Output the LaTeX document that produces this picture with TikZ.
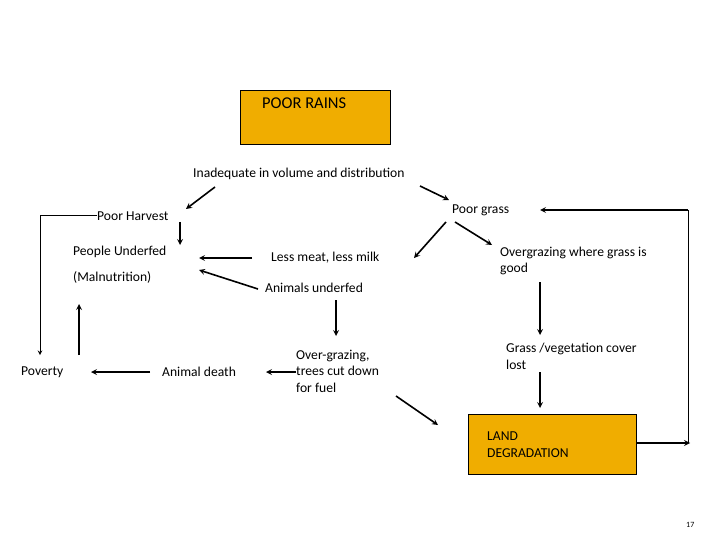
\documentclass[tikz,border=0pt]{standalone}
\usepackage{fontspec}
\setmainfont{Carlito}
\usetikzlibrary{arrows, positioning}
\definecolor{boxorange}{RGB}{240,173,0}
\tikzstyle{box}=[draw, fill=boxorange, anchor=north west]
\tikzstyle{lbl}=[anchor=west, inner sep=0pt, align=left, font=\fontsize{13.6}{16.5}\selectfont]
\tikzstyle{arr} = [line width=1.6pt,->,>=stealth]
\tikzstyle{ln} = [line width=1pt]

\begin{document}
\begin{tikzpicture}[x=1pt, y=-1pt]
    \useasboundingbox (0,0) rectangle (720,540);

    % boxes
    \node [box, minimum width=150pt, minimum height=54pt](rains) at (240,90) {};
    \node [lbl, font=\fontsize{16.5}{19}\selectfont](rainstxt) at ([xshift=22pt, yshift=-13pt]rains.north west) {POOR RAINS};
    \node [box, minimum width=168pt, minimum height=60pt, text width=130pt, inner xsep=19pt, align=left,
           font=\fontsize{13.6}{17}\selectfont](land) at (468,414) {LAND\\DEGRADATION};

    % labels
    \node [lbl](inad) at (193,174) {Inadequate in volume and distribution};
    \node [lbl](harvest) at (97,216) {Poor Harvest};
    \node [lbl](under) at (73,252) {People Underfed};
    \node [lbl](malnu) at (73,277) {(Malnutrition)};
    \node [lbl](meat) at (271,258) {Less meat, less milk};
    \node [lbl](anfed) at (265,288) {Animals underfed};
    \node [lbl](grass) at (452,210) {Poor grass};
    \node [lbl](overg) at (500,261) {Overgrazing where grass is\\good};
    \node [lbl](cover) at (506,356.5) {Grass /vegetation cover\\lost};
    \node [lbl](fuel) at (296,371) {Over-grazing,\\trees cut down\\for fuel};
    \node [lbl](death) at (162,372) {Animal death};
    \node [lbl](poverty) at (21,372) {Poverty};
    \node [lbl, font=\fontsize{8}{10}\selectfont](page) at (686,525) {17};

    % arrow ends
    \coordinate (inadL1) at (215,187);  \coordinate (inadL2) at (186,209);
    \coordinate (inadR1) at (420,186);  \coordinate (inadR2) at (449,200);
    \coordinate (povTop) at (40,355);
    \coordinate (harvB1) at (180,222);  \coordinate (harvB2) at (180,245);
    \coordinate (meat1) at (252,258);   \coordinate (meat2) at (199,258);
    \coordinate (anfed1) at (258,289);  \coordinate (anfed2) at (199,270);
    \coordinate (grassL1) at (446,222); \coordinate (grassL2) at (414,258);
    \coordinate (grassR1) at (455,222); \coordinate (grassR2) at (492,245);
    \coordinate (overg1) at (540,282);  \coordinate (overg2) at (540,335);
    \coordinate (cover1) at (540,372);  \coordinate (cover2) at (540,408);
    \coordinate (landR) at (690,443);   \coordinate (loop) at (688,443);
    \coordinate (grassE) at (540,210);
    \coordinate (anfedB1) at (336,300); \coordinate (anfedB2) at (336,336);
    \coordinate (fuelL) at (266,372);
    \coordinate (death1) at (150,372);  \coordinate (death2) at (91,372);
    \coordinate (povUp1) at (79,355);   \coordinate (povUp2) at (79,304);
    \coordinate (fuelD1) at (396,396);  \coordinate (fuelD2) at (438,425);

    \path (inadL1) edge[arr] (inadL2);
    \path (inadR1) edge[arr] (inadR2);
    \draw [ln,->,>=stealth] (harvest.west) -| (povTop);
    \path (harvB1) edge[arr] (harvB2);
    \path (meat1) edge[arr] (meat2);
    \path (anfed1) edge[arr] (anfed2);
    \path (grassL1) edge[arr] (grassL2);
    \path (grassR1) edge[arr] (grassR2);
    \path (overg1) edge[arr] (overg2);
    \path (cover1) edge[arr] (cover2);
    \path (land.east |- landR) edge[arr] (landR);
    \draw [ln] (loop) -- (loop |- grassE);
    \path (loop |- grassE) edge[arr] (grassE);
    \path (anfedB1) edge[arr] (anfedB2);
    \path (fuel.west |- fuelL) edge[arr] (fuelL);
    \path (death1) edge[arr] (death2);
    \path (povUp1) edge[arr] (povUp2);
    \path (fuelD1) edge[arr] (fuelD2);
\end{tikzpicture}
\end{document}
